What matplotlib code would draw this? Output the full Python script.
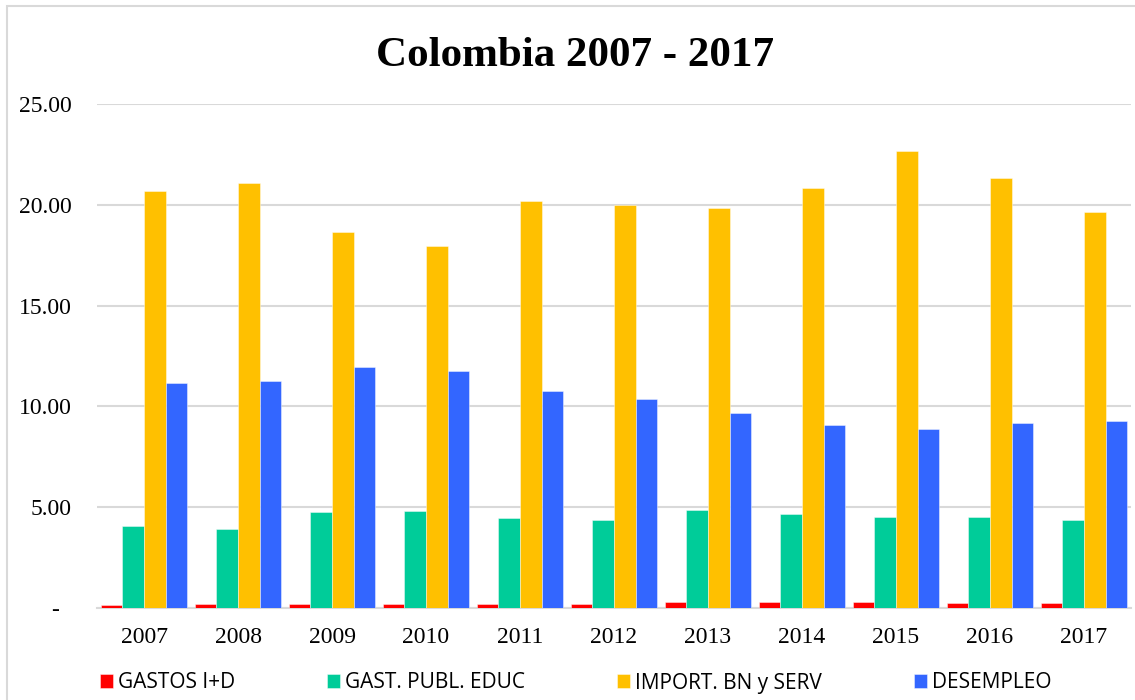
import numpy as np
import matplotlib
matplotlib.use("Agg")
import matplotlib.pyplot as plt
from matplotlib.patches import Rectangle

years = ["2007", "2008", "2009", "2010", "2011", "2012",
         "2013", "2014", "2015", "2016", "2017"]

gastos_id = [0.17, 0.20, 0.20, 0.19, 0.20, 0.22, 0.28, 0.30, 0.29, 0.27, 0.24]
gast_publ_educ = [4.05, 3.90, 4.75, 4.81, 4.46, 4.37, 4.86, 4.66, 4.51, 4.51, 4.38]
import_bn_serv = [20.68, 21.08, 18.67, 17.96, 20.19, 19.99, 19.84, 20.83, 22.67, 21.33, 19.66]
desempleo = [11.18, 11.27, 11.97, 11.76, 10.78, 10.37, 9.67, 9.08, 8.86, 9.18, 9.28]

series = [
    ("GASTOS I+D", gastos_id, "#FF0000"),
    ("GAST. PUBL. EDUC", gast_publ_educ, "#00CC99"),
    ("IMPORT. BN y SERV", import_bn_serv, "#FFC000"),
    ("DESEMPLEO", desempleo, "#3366FF"),
]

serif = ["Liberation Serif", "DejaVu Serif"]
sans = ["Open Sans", "DejaVu Sans"]

fig = plt.figure(figsize=(11.35, 7), dpi=100)
ax = fig.add_axes([97 / 1135, 1 - 608 / 700, 1034 / 1135, 504 / 700])

x = np.arange(len(years))
w = 0.229
for i, (name, vals, color) in enumerate(series):
    ax.bar(x + (i - 1.5) * w, vals, w, color=color, label=name,
           edgecolor=(1, 1, 1, 0.5), linewidth=0.6, zorder=3)

ax.set_xlim(-0.5, len(years) - 0.5)
ax.set_ylim(0, 25)
ax.set_yticks([0, 5, 10, 15, 20, 25])
ax.set_yticklabels(["-  ", "5.00", "10.00", "15.00", "20.00", "25.00"],
                   family=serif, fontsize=17)
ax.set_xticks(x)
ax.set_xticklabels(years, family=serif, fontsize=17)
ax.tick_params(axis="both", length=0)
ax.tick_params(axis="y", pad=18.5)
ax.tick_params(axis="x", pad=14)

ax.grid(axis="y", color="#d9d9d9", linewidth=1.5, zorder=0)
for side in ["top", "right", "left"]:
    ax.spines[side].set_visible(False)
ax.spines["bottom"].set_color("#d9d9d9")
ax.spines["bottom"].set_linewidth(1.5)

fig.text(0.507, 1 - 56 / 700, "Colombia 2007 - 2017", family=serif,
         fontsize=31, fontweight="bold", ha="center", va="center")

leg = fig.legend(loc="center left", bbox_to_anchor=(100 / 1135, 1 - 683 / 700),
                 ncol=4, frameon=False, prop={"family": sans, "size": 15},
                 borderpad=0, borderaxespad=0,
                 handlelength=0.63, handleheight=0.63, handletextpad=0.25,
                 columnspacing=4.4)

# chart area border
fig.add_artist(Rectangle((7 / 1135, -0.1), 1.2, 1 - 6 / 700 + 0.1,
                         transform=fig.transFigure, fill=False,
                         edgecolor="#d9d9d9", linewidth=1.5))

fig.savefig("out.png", dpi=100)
